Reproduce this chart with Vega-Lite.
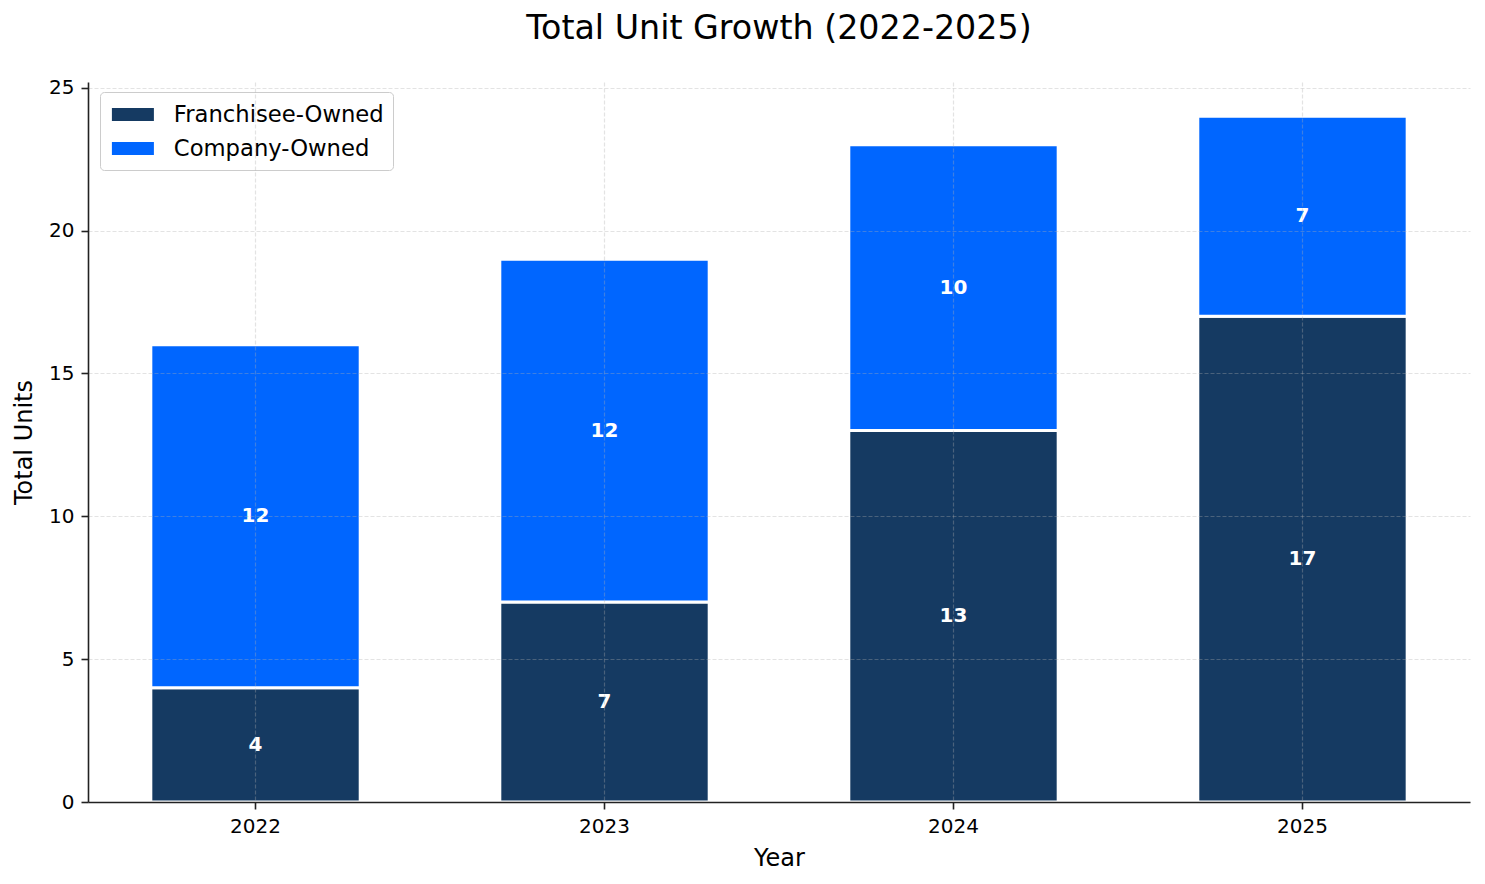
{
  "$schema": "https://vega.github.io/schema/vega-lite/v6.json",
  "autosize": "none",
  "padding": {"left": 88, "top": 82, "right": 15, "bottom": 82},
  "width": 1382,
  "height": 720,
  "background": "white",
  "title": {
    "text": "Total Unit Growth (2022-2025)",
    "font": "DejaVu Sans",
    "fontSize": 33.3,
    "fontWeight": "normal",
    "color": "#000000",
    "anchor": "middle",
    "baseline": "alphabetic",
    "offset": 5
  },
  "config": {
    "view": {"stroke": null},
    "font": "DejaVu Sans",
    "axis": {
      "labelFont": "DejaVu Sans",
      "titleFont": "DejaVu Sans",
      "labelFontSize": 20,
      "titleFontSize": 24,
      "titleFontWeight": "normal",
      "labelColor": "#000000",
      "titleColor": "#000000",
      "domainColor": "#222222",
      "domainWidth": 1.6,
      "tickColor": "#222222",
      "tickWidth": 1.6,
      "tickSize": 7,
      "labelPadding": 7,
      "gridColor": "#b0b0b0",
      "gridOpacity": 0.35,
      "gridDash": [4, 2],
      "gridWidth": 1.2
    }
  },
  "data": {
    "values": [
      {"year": "2022", "owner": "Franchisee-Owned", "units": 4},
      {"year": "2022", "owner": "Company-Owned", "units": 12},
      {"year": "2023", "owner": "Franchisee-Owned", "units": 7},
      {"year": "2023", "owner": "Company-Owned", "units": 12},
      {"year": "2024", "owner": "Franchisee-Owned", "units": 13},
      {"year": "2024", "owner": "Company-Owned", "units": 10},
      {"year": "2025", "owner": "Franchisee-Owned", "units": 17},
      {"year": "2025", "owner": "Company-Owned", "units": 7}
    ]
  },
  "transform": [
    {"stack": "units", "groupby": ["year"], "sort": [{"field": "owner", "order": "descending"}], "as": ["y0", "y1"]},
    {"calculate": "(datum.y0 + datum.y1) / 2", "as": "ymid"}
  ],
  "encoding": {
    "x": {
      "field": "year",
      "type": "nominal",
      "title": "Year",
      "scale": {"paddingInner": 0.4, "paddingOuter": 0.18},
      "axis": {"labelAngle": 0, "grid": true, "bandPosition": 0.5, "titlePadding": 10, "zindex": 1}
    }
  },
  "layer": [
    {
      "mark": {"type": "bar", "stroke": "white", "strokeWidth": 3},
      "encoding": {
        "y": {
          "field": "y0",
          "type": "quantitative",
          "title": "Total Units",
          "scale": {"domain": [0, 25.2], "nice": false},
          "axis": {"values": [0, 5, 10, 15, 20, 25], "grid": true, "titlePadding": 12, "zindex": 1}
        },
        "y2": {"field": "y1"},
        "color": {
          "field": "owner",
          "type": "nominal",
          "scale": {"domain": ["Franchisee-Owned", "Company-Owned"], "range": ["#153A62", "#0066FF"]},
          "legend": {
            "title": null,
            "orient": "none",
            "legendX": 12,
            "legendY": 10,
            "direction": "vertical",
            "symbolType": "M-1.6,-0.5H1.6V0.5H-1.6Z",
            "symbolSize": 689,
            "symbolStrokeWidth": 0,
            "symbolOpacity": 1,
            "symbolOffset": 10.4,
            "labelFont": "DejaVu Sans",
            "labelFontSize": 22.7,
            "labelColor": "#000000",
            "labelOffset": 27.4,
            "labelLimit": 400,
            "rowPadding": 8,
            "padding": 9,
            "fillColor": "white",
            "strokeColor": "#cccccc",
            "cornerRadius": 4
          }
        }
      }
    },
    {
      "mark": {"type": "text", "color": "white", "fontWeight": "bold", "fontSize": 20, "font": "DejaVu Sans", "baseline": "middle"},
      "encoding": {
        "y": {"field": "ymid", "type": "quantitative"},
        "text": {"field": "units", "type": "quantitative"}
      }
    }
  ]
}
